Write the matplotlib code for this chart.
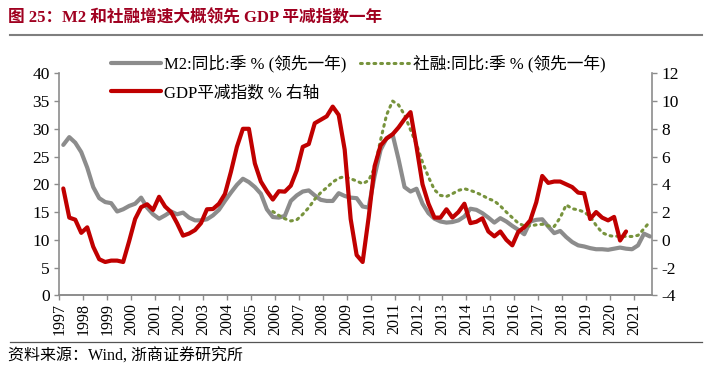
import matplotlib
matplotlib.use('Agg')
import matplotlib.pyplot as plt
from matplotlib.lines import Line2D

plt.rcParams['font.family'] = ['Liberation Serif', 'Noto Sans CJK SC']
plt.rcParams['axes.unicode_minus'] = False

# quarterly points, placed at quarter-end months (Mar, Jun, Sep, Dec)
qoff = [2 / 12, 5 / 12, 8 / 12, 11 / 12]

m2 = [27.1, 28.5, 27.5, 25.8,
      23.0, 19.5, 17.5, 16.8,
      16.6, 15.1, 15.5, 16.1,
      16.5, 17.6, 15.8, 14.6,
      13.8, 14.4, 15.1, 14.6,
      14.9, 14.0, 13.5, 13.5,
      13.7, 14.4, 15.4, 17.0,
      18.5, 19.9, 21.0, 20.4,
      19.5, 18.3, 15.5, 14.1,
      14.0, 14.3, 17.0, 18.0,
      18.7, 18.9, 18.0, 17.2,
      17.0, 17.0, 18.4, 17.9,
      17.6, 17.5, 16.0, 15.8,
      21.5, 26.2, 28.3, 29.0,
      24.5, 19.5, 18.7, 19.2,
      16.5, 14.8, 13.8, 13.3,
      13.1, 13.2, 13.5, 14.2,
      15.6, 15.4, 14.8, 14.0,
      13.1, 13.9, 13.3, 12.5,
      11.8, 11.0, 13.3, 13.6,
      13.7, 12.4, 11.2, 11.6,
      10.5, 9.6, 9.0, 8.8,
      8.5, 8.3, 8.3, 8.2,
      8.4, 8.6, 8.4, 8.3,
      9.0, 11.1, 10.6]

# social financing, starts 2005 Q4
tsf = [15.1,
       14.4, 13.8, 13.4, 13.6,
       14.6, 15.8, 17.3, 18.5,
       19.4, 20.4, 21.1, 21.4,
       21.0, 20.6, 20.1, 20.7,
       23.0, 28.0, 32.5, 35.0,
       34.3, 32.5, 29.8, 27.2,
       24.0, 21.3, 19.0, 18.0,
       17.8, 18.3, 18.9, 19.2,
       18.9, 18.5, 18.0, 17.4,
       17.0, 16.1, 15.0, 14.0,
       13.0, 12.5, 12.5, 12.7,
       12.8, 12.5, 12.4, 14.0,
       16.3, 15.6, 15.4, 15.0,
       14.2, 12.6, 11.3, 10.8,
       10.6, 10.7, 10.6, 10.6,
       10.8, 12.0, 13.3]

# GDP deflator (right axis), 1997 Q1 - 2020 Q3
gdp = [3.7, 1.6, 1.45, 0.5,
       0.9, -0.5, -1.4, -1.6,
       -1.5, -1.5, -1.6, -0.1,
       1.5, 2.35, 2.56, 2.15,
       3.1, 2.4, 2.0, 1.2,
       0.3, 0.45, 0.7, 1.2,
       2.2, 2.22, 2.6, 3.3,
       4.9, 6.7, 8.0, 8.0,
       5.5, 4.2, 3.5, 2.9,
       3.5, 3.47, 3.9, 5.0,
       6.7, 6.9, 8.4, 8.65,
       8.9, 9.6, 9.0, 6.5,
       1.5, -1.1, -1.6, 1.6,
       5.3, 6.8, 7.3, 7.6,
       8.1, 8.7, 9.2, 6.7,
       4.0, 2.6, 1.6, 1.6,
       2.2, 1.6, 2.0, 2.6,
       1.2, 1.3, 1.55, 0.6,
       0.25, 0.6, 0.0, -0.4,
       0.58, 0.9, 1.4, 2.7,
       4.6, 4.1, 4.2, 4.2,
       4.0, 3.8, 3.4, 3.35,
       1.5, 2.0, 1.6, 1.4,
       1.65, -0.05, 0.6]

years = list(range(1997, 2022))


def quarters(y0, q0, n):
    out = []
    y, q = y0, q0
    for _ in range(n):
        out.append(y + qoff[q])
        q += 1
        if q == 4:
            q = 0
            y += 1
    return out


x_m2 = quarters(1997, 0, len(m2))
x_tsf = quarters(2005, 3, len(tsf))
x_gdp = quarters(1997, 0, len(gdp))

red = '#C00000'
gray = '#8C8C8C'
green = '#77933C'
axc = '#8C8C8C'

fig = plt.figure(figsize=(7.22, 3.8), dpi=100)
ax = fig.add_axes([59.3 / 722, 1 - 295.3 / 380, (652 - 59.3) / 722, (295.3 - 73.3) / 380])
ax2 = ax.twinx()

ax.plot(x_m2, m2, color=gray, lw=3.0, solid_joinstyle='round', solid_capstyle='round', zorder=2)
ax.plot(x_tsf, tsf, color=green, lw=2.2, linestyle=(0, (0.6, 1.6)), dash_capstyle='round', zorder=3)
ax2.plot(x_gdp, gdp, color=red, lw=3.0, solid_joinstyle='round', solid_capstyle='round', zorder=4)

ax.set_xlim(1997, 2021.75)
ax.set_ylim(0, 40)
ax.set_yticks(range(0, 41, 5))
ax2.set_ylim(-4, 12)
ax2.set_yticks(range(-4, 13, 2))
ax.set_xticks(years)
ax.set_xticklabels([str(y) for y in years], rotation=90)

for a in (ax, ax2):
    for s in a.spines.values():
        s.set_color(axc)
        s.set_linewidth(1.2)
    a.spines['top'].set_visible(False)
    a.tick_params(colors=axc, labelcolor='black', labelsize=12.5, length=3.5, width=1.0)
ax.spines['right'].set_visible(False)
ax2.spines['left'].set_visible(False)
ax.tick_params(axis='x', labelsize=11.5, pad=2)

handles = [Line2D([], [], color=gray, lw=3.0, solid_capstyle='round'),
           Line2D([], [], color=red, lw=3.0, solid_capstyle='round'),
           Line2D([], [], color=green, lw=2.2, linestyle=(0, (0.6, 1.6)), dash_capstyle='round')]
labels = ['M2:同比:季 % (领先一年)', 'GDP平减指数 % 右轴', '社融:同比:季 % (领先一年)']
fig.legend(handles, labels, ncol=2, loc='upper left', bbox_to_anchor=(104 / 722, 1 - 48 / 380),
           frameon=False, fontsize=12, handlelength=3.0, handletextpad=0.2,
           columnspacing=0.8, labelspacing=0.75, borderaxespad=0)

fig.text(8 / 722, 1 - 18 / 380, '图 25：M2 和社融增速大概领先 GDP 平减指数一年',
         color='#A00020', fontsize=12, fontweight='bold', va='center', ha='left')
fig.add_artist(Line2D([10 / 722, 702 / 722], [1 - 35 / 380, 1 - 35 / 380], color='#7F7F7F', lw=1.5))
fig.add_artist(Line2D([10 / 722, 702 / 722], [1 - 341.7 / 380, 1 - 341.7 / 380], color='#555555', lw=0.9))
fig.text(8 / 722, 1 - 357 / 380, '资料来源：Wind, 浙商证券研究所', fontsize=11.5, va='center', ha='left')

fig.savefig('out.png', dpi=100)
